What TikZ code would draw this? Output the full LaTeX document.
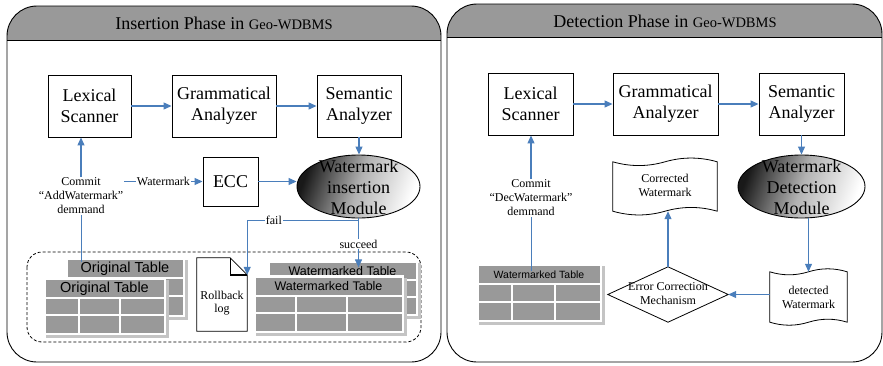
\documentclass[tikz,border=0pt]{standalone}
\usepackage{fontspec}
\setmainfont{Liberation Serif}
\newfontfamily\arialf{Liberation Sans}
\usetikzlibrary{arrows.meta,shapes.geometric,calc}
\definecolor{lnblue}{HTML}{4A7EBB}
\definecolor{hdrgray}{HTML}{999999}
\definecolor{tgray}{HTML}{999999}
\definecolor{shgray}{HTML}{C4C4C4}
\tikzset{
  box/.style={draw, line width=0.9pt, inner sep=0pt, align=center, font=\fontsize{18}{21}\selectfont},
  arr/.style={draw=lnblue, line width=1.1pt, -{Triangle[length=8pt,width=7pt]}},
  ln/.style={draw=lnblue, line width=1pt},
  small/.style={font=\fontsize{12}{14}\selectfont, align=center, inner sep=1pt},
  lbl/.style={small, fill=white, inner sep=1pt},
  panel/.style={draw, line width=0.9pt, rounded corners=30pt},
  ghost/.style={inner sep=0pt, align=center},
  bigtxt/.style={ghost, font=\fontsize{18}{21}\selectfont},
  wmell/.style={ellipse, draw, line width=0.9pt, inner sep=0pt, shade, top color=black!90, bottom color=white, middle color=gray!60, shading angle=70},
  hdrtxt/.style={inner sep=0pt, font=\fontsize{18}{21}\selectfont},
}
% table: name, x1, y1, x2, y2, title, font size
\newcommand\gtable[7]{%
  \fill[shgray] (#2+3,#3+3) rectangle (#4+3,#5+3);
  \fill[white] (#2,#3) rectangle (#4,#5);
  \pgfmathsetmacro\xa{#2+2.5}\pgfmathsetmacro\xb{#4-2.5}%
  \pgfmathsetmacro\ya{#3+2.5}\pgfmathsetmacro\yb{#5-2.5}%
  \pgfmathsetmacro\yt{\ya+0.34*(\yb-\ya)}%
  \pgfmathsetmacro\yr{(\yt+\yb)/2}%
  \pgfmathsetmacro\ca{\xa+0.28*(\xb-\xa)}%
  \pgfmathsetmacro\cb{\xa+0.63*(\xb-\xa)}%
  \fill[tgray] (\xa,\ya) rectangle (\xb,\yb);
  \draw[white, line width=2pt] (\xa,\yt) -- (\xb,\yt) (\xa,\yr) -- (\xb,\yr)
     (\ca,\yt) -- (\ca,\yb) (\cb,\yt) -- (\cb,\yb);
  \node[inner sep=0pt, font=\arialf\fontsize{#7}{#7}\selectfont] (#1) at ({(\xa+\xb)/2},{(\ya+\yt)/2}) {#6};
}
% tape outline around node #1 of width #2, wave amplitude #3
\newcommand\tapeoutline[3]{%
  \draw[line width=0.8pt, fill=white]
    (#1.north west) .. controls ($(#1.north west)+(#2/6,#3)$) and ($(#1.north west)+(#2/3,#3)$) ..
    (#1.north) .. controls ($(#1.north)+(#2/6,-#3)$) and ($(#1.north)+(#2/3,-#3)$) ..
    (#1.north east) -- (#1.south east)
    .. controls ($(#1.south east)+(-#2/6,-#3)$) and ($(#1.south east)+(-#2/3,-#3)$) ..
    (#1.south) .. controls ($(#1.south)+(-#2/6,#3)$) and ($(#1.south)+(-#2/3,#3)$) ..
    (#1.south west) -- cycle;
}
\begin{document}
\begin{tikzpicture}[x=1pt,y=-1pt]
\useasboundingbox (0,0) rectangle (883,365);

% ================= LEFT PANEL =================
\begin{scope}
  \clip[rounded corners=30pt] (7,6) rectangle (441,362);
  \fill[hdrgray] (7,6) rectangle (441,40);
\end{scope}
\draw[line width=0.9pt] (7,40) -- (441,40);
\draw[panel] (7,6) rectangle (441,362);
\node[hdrtxt] (hl) at (224,23) {Insertion Phase in {\fontsize{14.5}{16}\selectfont Geo-WDBMS}};

\node[box, minimum width=83pt, minimum height=62pt] (lex) at (89.5,106) {Lexical\\Scanner};
\node[box, minimum width=104pt, minimum height=62pt] (gram) at (224,106) {Grammatical\\Analyzer};
\node[box, minimum width=84pt, minimum height=62pt] (sem) at (359,106) {Semantic\\Analyzer};
\node[box, minimum width=55pt, minimum height=49pt] (ecc) at (230.5,181.5) {ECC};
\node[wmell, minimum width=123pt, minimum height=63pt] (wim) at (358.5,186.5) {};
\node[bigtxt] (wimt) at (358.5,187) {Watermark\\insertion\\Module};

\node[small] (com) at (81,196) {Commit\\``AddWatermark''\\demmand};

% dashed container
\draw[line width=0.8pt, dash pattern=on 3pt off 2pt, rounded corners=15pt] (27,252) rectangle (421,342);

% tables
\gtable{ot1}{65}{257}{185}{317}{Original Table}{14.5}
\gtable{ot2}{43}{277}{166}{335}{Original Table}{14.5}
\gtable{wt1}{267}{260}{418}{316}{Watermarked Table}{12.5}
\gtable{wt2}{253}{275}{404}{333}{Watermarked Table}{12.5}

% rollback log
\node[ghost, minimum width=50pt, minimum height=73pt] (rb) at (222,294.5) {};
\draw[line width=0.8pt, fill=white] (rb.north west) -- ([xshift=-17pt]rb.north east) -- ([yshift=-17pt]rb.north east) -- (rb.south east) -- (rb.south west) -- cycle;
\draw[line width=1.4pt] ([xshift=-17pt]rb.north east) -- ([xshift=-17pt,yshift=-17pt]rb.north east) -- ([yshift=-17pt]rb.north east);
\node[ghost, font=\fontsize{12}{13.5}\selectfont] (rbt) at (222,303) {Rollback\\log};

% connectors left
\draw[arr] (lex.east) -- (gram.west);
\draw[arr] (gram.east) -- (sem.west);
\draw[arr] (sem.south) -- (sem.south |- wim.north);
\draw[arr] (com.north) -- (com.north |- lex.south);
\draw[ln] (com.south) -- (com.south |- ot1.north);
\draw[arr] (com.east |- ecc.west) -- node[lbl] (wml) {Watermark} (ecc.west);
\draw[arr] (ecc.east) -- (ecc.east -| wim.west);
\coordinate (fb) at ([yshift=-2pt]wim.south);
\draw[ln] (wim.south) -- (fb);
\draw[arr] (fb) -| node[lbl, pos=0.38] (failt) {fail} ([yshift=-17pt]rb.north east);
\draw[arr] (fb) -- node[lbl, pos=0.5] (succt) {succeed} ([yshift=-1pt]wim.south |- wt1.north);

% ================= RIGHT PANEL =================
\begin{scope}
  \clip[rounded corners=30pt] (447,4) rectangle (882,362);
  \fill[hdrgray] (447,4) rectangle (882,37);
\end{scope}
\draw[line width=0.9pt] (447,37) -- (882,37);
\draw[panel] (447,4) rectangle (882,362);
\node[hdrtxt] (hr) at (665,21) {Detection Phase in {\fontsize{14.5}{16}\selectfont Geo-WDBMS}};

\node[box, minimum width=85pt, minimum height=62pt] (lex2) at (530.5,104) {Lexical\\Scanner};
\node[box, minimum width=105pt, minimum height=62pt] (gram2) at (665.5,104) {Grammatical\\Analyzer};
\node[box, minimum width=85pt, minimum height=62pt] (sem2) at (801.5,104) {Semantic\\Analyzer};
\node[wmell, minimum width=127pt, minimum height=63pt] (wdm) at (801.5,186.5) {};
\node[bigtxt] (wdmt) at (801.5,187) {Watermark\\Detection\\Module};

\node[small] (com2) at (531,198) {Commit\\``DecWatermark''\\demmand};
\gtable{wt3}{476}{263}{602}{322}{Watermarked Table}{10.5}

\node[ghost, minimum width=104pt, minimum height=49pt] (cw) at (665,186.5) {};
\tapeoutline{cw}{104}{5}
\node[small] (cwt) at (665,185) {Corrected\\Watermark};

\node[ghost, minimum width=77pt, minimum height=50pt] (dw) at (808.5,297) {};
\tapeoutline{dw}{77}{4}
\node[small] (dwt) at (808.5,297) {detected\\Watermark};

\node[ghost, minimum width=120pt, minimum height=55pt] (ecm) at (668,294.5) {};
\draw[line width=0.8pt] (ecm.west) -- (ecm.north) -- (ecm.east) -- (ecm.south) -- cycle;
\node[small] (ecmt) at (668,294) {Error Correction\\Mechanism};

% connectors right
\draw[arr] (lex2.east) -- (gram2.west);
\draw[arr] (gram2.east) -- (sem2.west);
\draw[arr] (sem2.south) -- (wdm.north);
\draw[arr] (com2.north) -- (com2.north |- lex2.south);
\draw[ln] (com2.south) -- (com2.south |- wt3.north);
\draw[arr] (dw.north |- wdm.south) -- (dw.north);
\draw[arr] (dw.west |- ecm.east) -- (ecm.east);
\draw[arr] (ecm.north) -- (ecm.north |- cw.south);
\end{tikzpicture}
\end{document}
